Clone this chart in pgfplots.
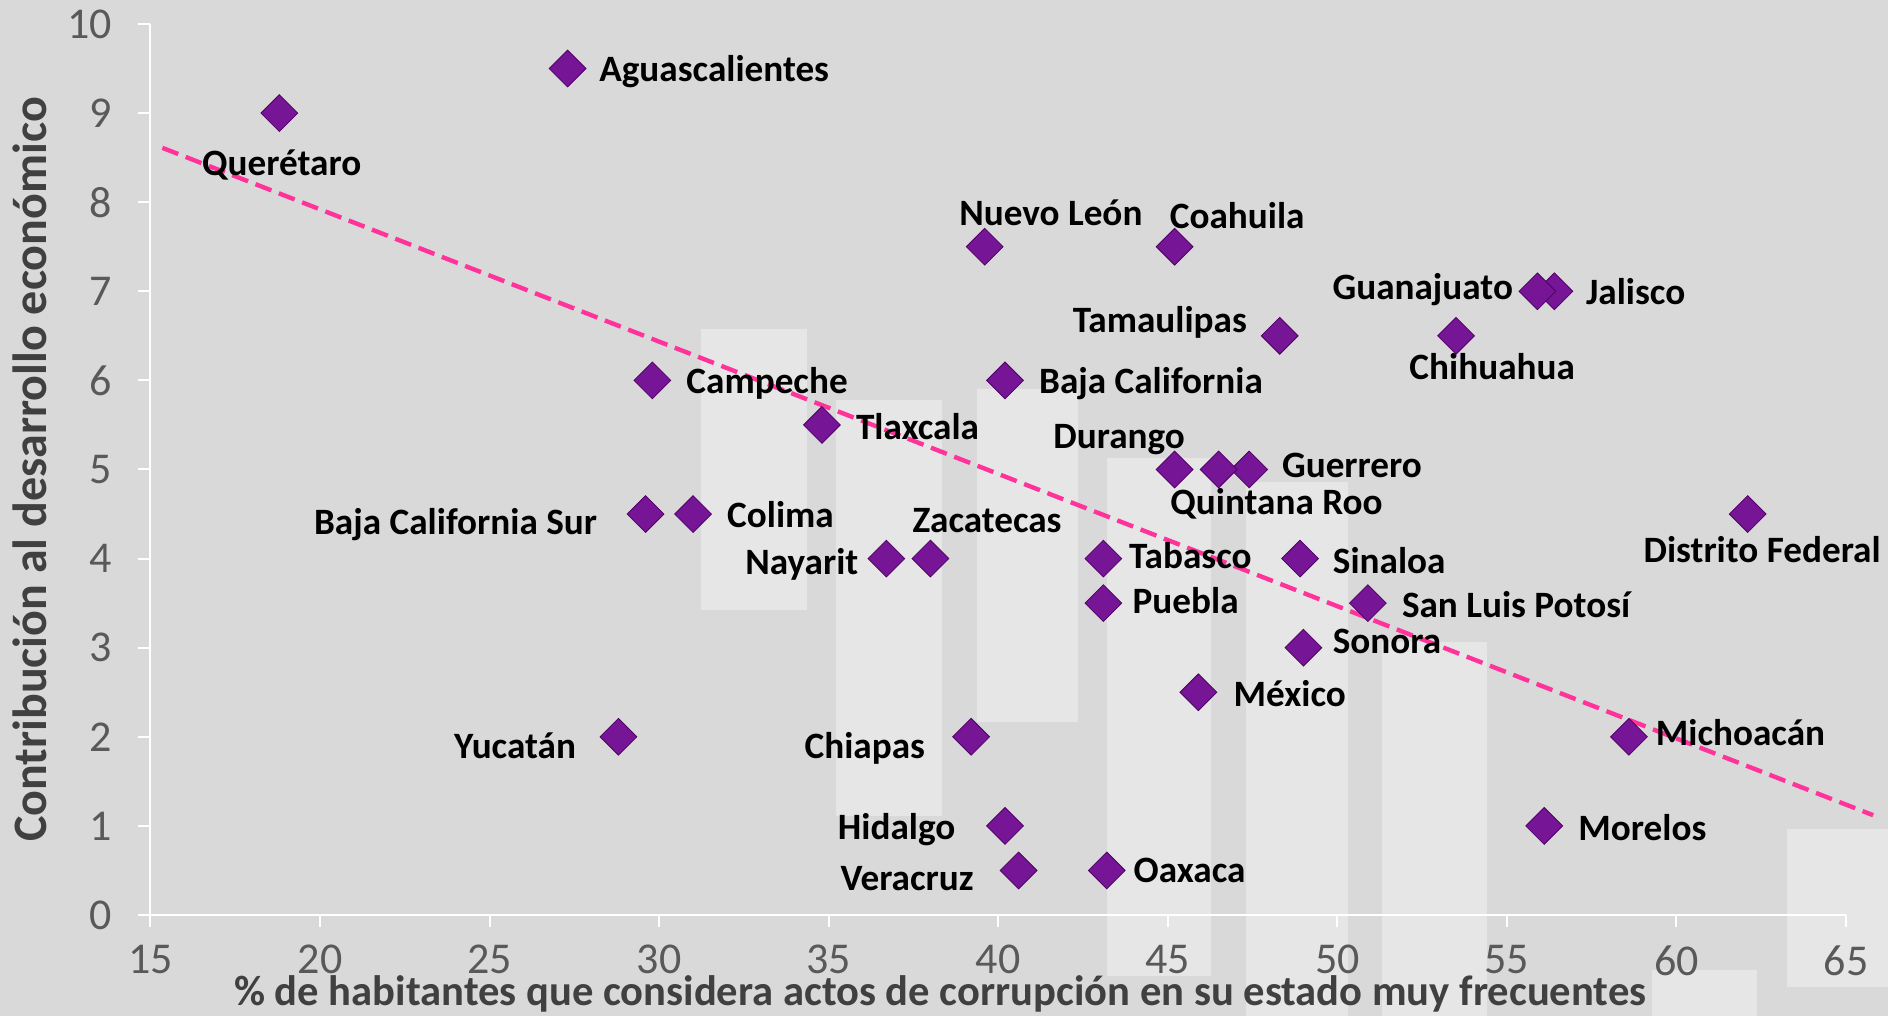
\documentclass[border=0pt]{standalone}
\usepackage{fontspec}
\setmainfont{Carlito}
\usepackage{pgfplots}
\usepackage{pgfplotstable}
\pgfplotsset{compat=1.18}
\definecolor{bg}{HTML}{D9D9D9}
\definecolor{lt}{HTML}{E6E6E6}
\definecolor{mk}{RGB}{118,22,150}
\definecolor{mkd}{RGB}{80,0,100}
\definecolor{trend}{RGB}{255,51,153}
\definecolor{tickgray}{HTML}{595959}
\definecolor{titlegray}{HTML}{404040}

% x, y = data; dx, dy = label offset in reference pixels (shrunk image)
\pgfplotstableread[col sep=comma]{
x,y,dx,dy,label
27.3,9.5,26,-1,Aguascalientes
56.4,7,26,-1,Jalisco
29.8,6,28,-1,Campeche
40.2,6,28,-1,Baja California
34.8,5.5,28,-2,Tlaxcala
47.4,5,27,3,Guerrero
31.0,4.5,28,-1,Colima
43.1,4,21,2,Tabasco
48.9,4,27,-2,Sinaloa
43.1,3.5,24,1,Puebla
50.9,3.5,28,-2,San Luis Potosí
49.0,3,24,5,Sonora
45.9,2.5,29,-2,México
58.6,2,22,3,Michoacán
56.1,1,28,-2,Morelos
43.2,0.5,22,0,Oaxaca
}\westtab

\pgfplotstableread[col sep=comma]{
x,y,dx,dy,label
55.9,7,-20,3,Guanajuato
48.3,6.5,-27,13,Tamaulipas
29.6,4.5,-40,-7,Baja California Sur
36.7,4,-23,-3,Nayarit
28.8,2,-35,-8,Yucatán
39.2,2,-38,-8,Chiapas
40.2,1,-41,-1,Hidalgo
40.6,0.5,-37,-7,Veracruz
}\easttab

\pgfplotstableread[col sep=comma]{
x,y,dx,dy,label
18.8,9,2,-42,Querétaro
39.6,7.5,55,28,Nuevo León
45.2,7.5,52,25,Coahuila
53.5,6.5,30,-26,Chihuahua
45.2,5,-46,27,Durango
46.5,5,48,-27,Quintana Roo
62.1,4.5,12,-30,Distrito Federal
38.0,4,47,32,Zacatecas
}\centertab

\begin{document}
\begin{tikzpicture}
\fill[bg] (-75.25pt,-50.5pt) rectangle (868.75pt,457.5pt);
% decorative lighter panels of the background
\fill[lt] (275.25pt,152.5pt) rectangle (328.25pt,293pt);
\fill[lt] (342.75pt,49.5pt) rectangle (395.75pt,257.5pt);
\fill[lt] (413.25pt,96.5pt) rectangle (463.75pt,263pt);
\fill[lt] (478.25pt,-30.5pt) rectangle (530.25pt,228.5pt);
\fill[lt] (547.75pt,-50.5pt) rectangle (598.75pt,216.5pt);
\fill[lt] (615.75pt,-50.5pt) rectangle (668.25pt,136.5pt);
\fill[lt] (818.25pt,-36pt) rectangle (868.75pt,43pt);
\fill[lt] (750.75pt,-50.5pt) rectangle (803.25pt,-27.5pt);
\begin{axis}[
  at={(0,0)}, anchor=south west,
  scale only axis, width=847.75pt, height=445.5pt,
  xmin=15, xmax=65, ymin=0, ymax=10,
  xtick={15,20,...,65}, ytick={0,1,...,10},
  axis x line*=bottom, axis y line*=left,
  axis line style={white, line width=1pt},
  tick style={white, line width=1pt},
  tick align=outside, major tick length=6pt,
  clip=false,
  /pgf/number format/assume math mode=true,
  ticklabel style={font=\fontsize{22}{26}\selectfont, text=tickgray},
  xticklabel style={anchor=north, inner sep=0pt, yshift=-9pt},
  yticklabel style={anchor=east, inner sep=0pt, xshift=-13pt},
  xlabel={\% de habitantes que considera actos de corrupción en su estado muy frecuentes},
  ylabel={Contribución al desarrollo económico},
  every axis x label/.style={at={([yshift=-38.4pt]axis description cs:0.4658,0)}, anchor=center, inner sep=0pt, text height=13.7pt, text depth=0pt, font=\bfseries\fontsize{21.3}{24}\selectfont, text=titlegray},
  every axis y label/.style={at={([xshift=-59.6pt]axis description cs:0,0.5)}, rotate=90, anchor=center, inner sep=0pt, text height=15.4pt, text depth=0pt, font=\bfseries\fontsize{24}{28}\selectfont, text=titlegray},
  labelplot/.style={no marks, draw=none, point meta=explicit symbolic,
    nodes near coords={\pgfplotspointmeta},
    nodes near coords style={anchor=#1, inner sep=0pt, text height=12pt, text depth=0pt, font=\bfseries\fontsize{18.6}{21}\selectfont, text=black}},
  markplot/.style={only marks, mark=square*, mark size=6.5pt,
    mark options={rotate=45, fill=mk, draw=mkd, line width=0.4pt}},
]
% labels (offset in data units from the marker)
\addplot[labelplot=west] table[x expr=\thisrow{x}+\thisrow{dx}/28.16, y expr=\thisrow{y}+\thisrow{dy}/74, meta=label] {\westtab};
\addplot[labelplot=east] table[x expr=\thisrow{x}+\thisrow{dx}/28.16, y expr=\thisrow{y}+\thisrow{dy}/74, meta=label] {\easttab};
\addplot[labelplot=center] table[x expr=\thisrow{x}+\thisrow{dx}/28.16, y expr=\thisrow{y}+\thisrow{dy}/74, meta=label] {\centertab};
% markers
\addplot[markplot] table[x=x, y=y] {\westtab};
\addplot[markplot] table[x=x, y=y] {\easttab};
\addplot[markplot] table[x=x, y=y] {\centertab};
% trend line
\addplot[trend, line width=2.2pt, dash pattern=on 8.5pt off 4pt, forget plot] coordinates {(15.35,8.61) (65.8,1.12)};
\end{axis}
\pgfresetboundingbox
\path[use as bounding box] (-75.25pt,-50.5pt) rectangle (868.75pt,457.5pt);
\end{tikzpicture}
\end{document}
